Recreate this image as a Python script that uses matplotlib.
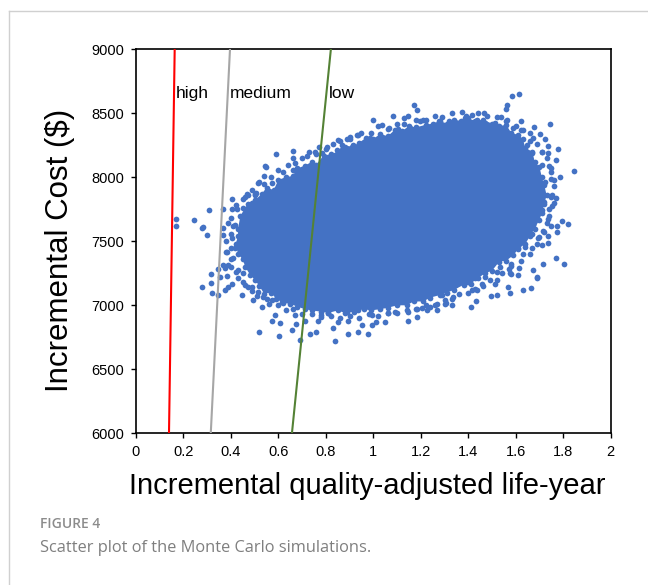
import matplotlib
matplotlib.use('Agg')
import matplotlib.pyplot as plt
from matplotlib.lines import Line2D

# ---------------- data ----------------
# willingness-to-pay threshold lines (x at cost 6000, x at cost 9000)
wtp_labels = ['high', 'medium', 'low']
wtp_x_bottom = [0.139, 0.315, 0.657]
wtp_x_top = [0.163, 0.396, 0.821]
wtp_y = [6000, 9000]
wtp_label_x = [0.168, 0.396, 0.813]
wtp_label_y = 8658

# simulations forming the dense rim of the saturated core, in order around it
# (the area they enclose is completely covered by overlapping points)
rim_x = [0.43, 0.44, 0.47, 0.50, 0.53, 0.55, 0.58, 0.60, 0.63, 0.66, 0.68, 0.71,
         0.74, 0.76, 0.79, 0.82, 0.85, 0.87, 0.91, 0.94, 0.97, 1.00, 1.03, 1.06,
         1.09, 1.12, 1.15, 1.18, 1.22, 1.25, 1.28, 1.31, 1.34, 1.37, 1.40, 1.43,
         1.46, 1.50, 1.53, 1.56, 1.58, 1.61, 1.63, 1.64, 1.67, 1.68, 1.70, 1.71,
         1.72, 1.73, 1.72, 1.71, 1.70, 1.68, 1.66, 1.64, 1.61, 1.59, 1.56, 1.53,
         1.50, 1.47, 1.44, 1.41, 1.38, 1.34, 1.31, 1.28, 1.24, 1.21, 1.17, 1.14,
         1.10, 1.06, 1.03, 0.99, 0.96, 0.92, 0.88, 0.85, 0.81, 0.78, 0.74, 0.71,
         0.68, 0.65, 0.62, 0.59, 0.57, 0.54, 0.52, 0.50, 0.48, 0.46, 0.45, 0.43,
         0.42, 0.43]
rim_y = [7600, 7700, 7790, 7820, 7870, 7920, 7900, 7980, 8000, 8010, 8070, 8090,
         8120, 8100, 8170, 8180, 8200, 8250, 8240, 8270, 8310, 8300, 8340, 8320,
         8370, 8360, 8400, 8390, 8410, 8420, 8440, 8420, 8450, 8440, 8460, 8440,
         8450, 8420, 8400, 8410, 8350, 8330, 8300, 8230, 8200, 8120, 8080, 8000,
         7940, 7860, 7790, 7720, 7670, 7600, 7540, 7480, 7440, 7390, 7350, 7340,
         7270, 7250, 7210, 7170, 7160, 7120, 7100, 7080, 7060, 7030, 7030, 7000,
         7000, 6980, 6970, 6960, 6970, 6950, 6940, 6960, 6940, 6950, 6960, 6970,
         6990, 7010, 7020, 7050, 7100, 7090, 7150, 7200, 7240, 7300, 7360, 7400,
         7480, 7540]

# looser rings of simulations just outside the rim
ring2_x = [0.40, 0.40, 0.42, 0.45, 0.49, 0.52, 0.57, 0.60, 0.64, 0.70, 0.73, 0.77,
           0.83, 0.90, 0.95, 1.02, 1.10, 1.18, 1.26, 1.33, 1.44, 1.52, 1.60, 1.66,
           1.69, 1.73, 1.75, 1.76, 1.76, 1.74, 1.72, 1.69, 1.66, 1.62, 1.57, 1.52,
           1.46, 1.40, 1.33, 1.26, 1.18, 1.10, 1.02, 0.94, 0.86, 0.78, 0.70, 0.63,
           0.56, 0.51, 0.47, 0.43, 0.40, 0.38, 0.38]
ring2_y = [7560, 7680, 7780, 7830, 7900, 7960, 8000, 8060, 8100, 8150, 8200, 8240,
           8260, 8300, 8350, 8400, 8420, 8450, 8480, 8500, 8500, 8470, 8400, 8350,
           8260, 8150, 8040, 7930, 7800, 7700, 7570, 7480, 7400, 7350, 7280, 7200,
           7150, 7100, 7050, 7000, 6970, 6940, 6920, 6900, 6900, 6910, 6930, 6960,
           7010, 7070, 7140, 7210, 7300, 7420, 7500]
ring3_x = [0.41, 0.45, 0.50, 0.54, 0.62, 0.67, 0.72, 0.76, 0.80, 0.86, 0.93, 0.99,
           1.06, 1.13, 1.21, 1.29, 1.39, 1.48, 1.56, 1.62, 1.66, 1.71, 1.74, 1.75,
           1.75, 1.74, 1.73, 1.70, 1.67, 1.63, 1.58, 1.54, 1.49, 1.43, 1.36, 1.30,
           1.22, 1.14, 1.06, 0.98, 0.90, 0.82, 0.74, 0.66, 0.60, 0.55, 0.49, 0.45,
           0.42, 0.40, 0.40]
ring3_y = [7620, 7760, 7860, 7950, 8040, 8110, 8170, 8180, 8220, 8280, 8330, 8350,
           8380, 8420, 8450, 8470, 8480, 8480, 8440, 8370, 8280, 8200, 8090, 7990,
           7850, 7750, 7640, 7530, 7450, 7400, 7320, 7250, 7200, 7130, 7090, 7040,
           7000, 6960, 6940, 6930, 6920, 6920, 6930, 6970, 7000, 7050, 7110, 7180,
           7260, 7360, 7450]

# individual simulations visible around the upper-left edge
upper_left_x = [0.998, 1.036, 0.935, 0.901, 0.889, 0.851, 0.986, 1.007, 0.880, 0.804,
                0.847, 0.914, 0.754, 0.783, 0.590, 0.661, 0.661, 0.543, 0.539, 0.661,
                0.699, 0.737, 0.573, 0.632, 0.665, 0.505, 0.472, 0.459, 0.564, 0.615,
                0.404, 0.404, 0.425, 0.366, 0.307, 0.489, 0.522, 0.539, 0.577, 0.640,
                0.699, 0.796, 0.838, 0.514, 0.548, 0.468, 0.501, 0.636]
upper_left_y = [8447, 8408, 8330, 8315, 8299, 8291, 8307, 8276, 8237, 8237,
                8213, 8252, 8197, 8190, 8182, 8205, 8151, 8088, 8010, 8057,
                8033, 8049, 7955, 7963, 7994, 7877, 7862, 7846, 7885, 7916,
                7830, 7752, 7752, 7752, 7744, 7799, 7807, 7729, 7838, 7823,
                7885, 8151, 8151, 7955, 8080, 7869, 7869, 7955]

# individual simulations around the upper-right edge
upper_right_x = [1.584, 1.613, 1.563, 1.558, 1.537, 1.466, 1.373, 1.415, 1.386, 1.318,
                 1.276, 1.221, 1.196, 1.171, 1.184, 1.146, 1.129, 1.082, 1.622, 1.744,
                 1.676, 1.630, 1.588, 1.702, 1.723, 1.672, 1.609, 1.647, 1.735, 1.777,
                 1.710, 1.668, 1.735, 1.580, 1.769, 1.710, 1.748, 1.845, 1.786, 1.761,
                 1.723, 1.697, 1.752, 1.769, 1.718, 1.752, 1.710, 1.668, 1.668, 1.066,
                 1.104, 1.154, 1.259, 1.310, 1.356, 1.436, 1.470, 1.512, 1.563]
upper_right_y = [8635, 8651, 8565, 8533, 8471, 8502, 8510, 8487, 8463, 8440,
                 8440, 8447, 8440, 8565, 8526, 8479, 8463, 8479, 8440, 8416,
                 8393, 8369, 8385, 8338, 8299, 8307, 8252, 8252, 8244, 8221,
                 8197, 8190, 8190, 8229, 8135, 8096, 8072, 8049, 8002, 7979,
                 7963, 7916, 7862, 7838, 7807, 7776, 7744, 8033, 8119, 8385,
                 8377, 8385, 8385, 8393, 8408, 8447, 8424, 8424, 8447]

# individual simulations around the lower-right edge
lower_right_x = [1.794, 1.820, 1.773, 1.748, 1.735, 1.714, 1.773, 1.735, 1.710, 1.693,
                 1.668, 1.769, 1.803, 1.714, 1.672, 1.689, 1.613, 1.609, 1.580, 1.580,
                 1.533, 1.521, 1.470, 1.428, 1.457, 1.398, 1.512, 1.567, 1.664, 1.630,
                 1.575, 1.521, 1.495, 1.432, 1.411, 1.415, 1.436, 1.344, 1.335, 1.331,
                 1.302, 1.268, 1.268, 1.238, 1.205, 1.184, 1.184, 1.146, 1.146, 1.091,
                 1.049, 1.061, 1.217, 1.289, 1.373, 1.609, 1.638, 1.735, 1.672, 1.617,
                 1.563, 1.554, 1.470, 1.419, 1.689, 1.575, 1.226, 1.306, 0.994]
lower_right_y = [7658, 7635, 7619, 7619, 7674, 7580, 7573, 7487, 7471, 7526,
                 7557, 7369, 7323, 7323, 7276, 7213, 7291, 7237, 7244, 7307,
                 7299, 7260, 7221, 7213, 7166, 7182, 7166, 7143, 7135, 7119,
                 7096, 7080, 7072, 7033, 6987, 7119, 7119, 7158, 7065, 7002,
                 7010, 7010, 6963, 6987, 6979, 6971, 6908, 6877, 6948, 6948,
                 6869, 6940, 7080, 7080, 7252, 7447, 7455, 7541, 7627, 7510,
                 7447, 7377, 7291, 7276, 7221, 7252, 6963, 7018, 6846]

# individual simulations around the lower-left edge
lower_left_x = [0.168, 0.168, 0.244, 0.278, 0.299, 0.316, 0.345, 0.354, 0.383, 0.316,
                0.278, 0.320, 0.345, 0.388, 0.375, 0.404, 0.446, 0.459, 0.493, 0.531,
                0.518, 0.602, 0.585, 0.607, 0.573, 0.657, 0.691, 0.674, 0.733, 0.758,
                0.830, 0.838, 0.893, 0.935, 0.977, 0.851, 0.893, 0.952, 1.011, 0.994,
                0.935, 0.889, 0.809, 0.767, 0.779, 0.712, 0.670, 0.535, 0.573, 0.615,
                0.657, 0.375, 0.366, 0.388, 0.383, 0.417, 0.404, 0.366, 0.366, 0.388,
                0.417, 0.409, 0.430, 0.451, 0.489, 0.514, 0.282]
lower_left_y = [7674, 7619, 7666, 7604, 7549, 7244, 7283, 7221, 7229, 7174,
                7143, 7096, 7080, 7143, 7119, 7166, 7080, 7158, 7041, 6987,
                6791, 6760, 6924, 6862, 6877, 6807, 6729, 6854, 6776, 6791,
                6823, 6721, 6776, 6791, 6776, 6869, 6877, 6846, 6869, 6924,
                6963, 6948, 6940, 6877, 6924, 6877, 6924, 7065, 7041, 7026,
                7041, 7291, 7315, 7315, 7416, 7447, 7526, 7549, 7604, 7643,
                7627, 7369, 7276, 7252, 7143, 7104, 7612]

x_ticks = [0, 0.2, 0.4, 0.6, 0.8, 1.0, 1.2, 1.4, 1.6, 1.8, 2.0]
x_tick_labels = ['0', '0.2', '0.4', '0.6', '0.8', '1', '1.2', '1.4', '1.6', '1.8', '2']
y_ticks = [6000, 6500, 7000, 7500, 8000, 8500, 9000]
y_tick_labels = ['6000', '6500', '7000', '7500', '8000', '8500', '9000']

# ---------------- style ----------------
BLUE = '#4472C4'
LINE_COLORS = ['#FF0000', '#A6A6A6', '#548235']
FONT = ['Liberation Sans', 'DejaVu Sans']
plt.rcParams['font.family'] = FONT

W, H = 648, 585
fig = plt.figure(figsize=(W / 100, H / 100), dpi=100)
ax = fig.add_axes([136 / W, 1 - 433.3 / H, (610.7 - 136) / W, (433.3 - 49.3) / H])

# saturated interior enclosed by the rim simulations
ax.fill(rim_x, rim_y, color=BLUE, lw=0, zorder=2)
for xs, ys in [(rim_x, rim_y), (ring2_x, ring2_y), (ring3_x, ring3_y),
               (upper_left_x, upper_left_y), (upper_right_x, upper_right_y),
               (lower_right_x, lower_right_y), (lower_left_x, lower_left_y)]:
    ax.scatter(xs, ys, s=17, color=BLUE, linewidths=0, zorder=3)

for xb, xt, c, lab, lx in zip(wtp_x_bottom, wtp_x_top, LINE_COLORS, wtp_labels, wtp_label_x):
    ax.plot([xb, xt], wtp_y, color=c, lw=1.5, zorder=4)
    ax.text(lx, wtp_label_y, lab, ha='left', va='center', fontsize=12.5, color='black', zorder=5)

ax.set_xlim(0, 2)
ax.set_ylim(6000, 9000)
ax.set_xticks(x_ticks)
ax.set_xticklabels(x_tick_labels)
ax.set_yticks(y_ticks)
ax.set_yticklabels(y_tick_labels)
ax.tick_params(axis='both', direction='out', length=3.5, width=1, labelsize=10.5, pad=5,
               colors='black')
for s in ax.spines.values():
    s.set_color('black')
    s.set_linewidth(1.2)

fig.text(367 / W, 1 - 486 / H, 'Incremental quality-adjusted life-year', ha='center', va='center',
         fontsize=21, color='black')
fig.text(60 / W, 1 - 250 / H, 'Incremental Cost ($)', ha='center', va='center',
         rotation=90, fontsize=22.5, color='black')

# page frame
fig.add_artist(Line2D([9 / W, 1], [1 - 11 / H, 1 - 11 / H], color='#D0D0D0', lw=1))
fig.add_artist(Line2D([9 / W, 9 / W], [0, 1 - 11 / H], color='#D0D0D0', lw=1))

fig.text(40 / W, 1 - 524 / H, 'FIGURE 4', ha='left', va='center', fontsize=10,
         color='#8C8C8C', family=['Open Sans', 'DejaVu Sans'], fontweight='semibold')
fig.text(40 / W, 1 - 548 / H, 'Scatter plot of the Monte Carlo simulations.', ha='left',
         va='center', fontsize=11.8, color='#7F7F7F', family=['Open Sans', 'DejaVu Sans'])

fig.savefig('out.png', dpi=100)
